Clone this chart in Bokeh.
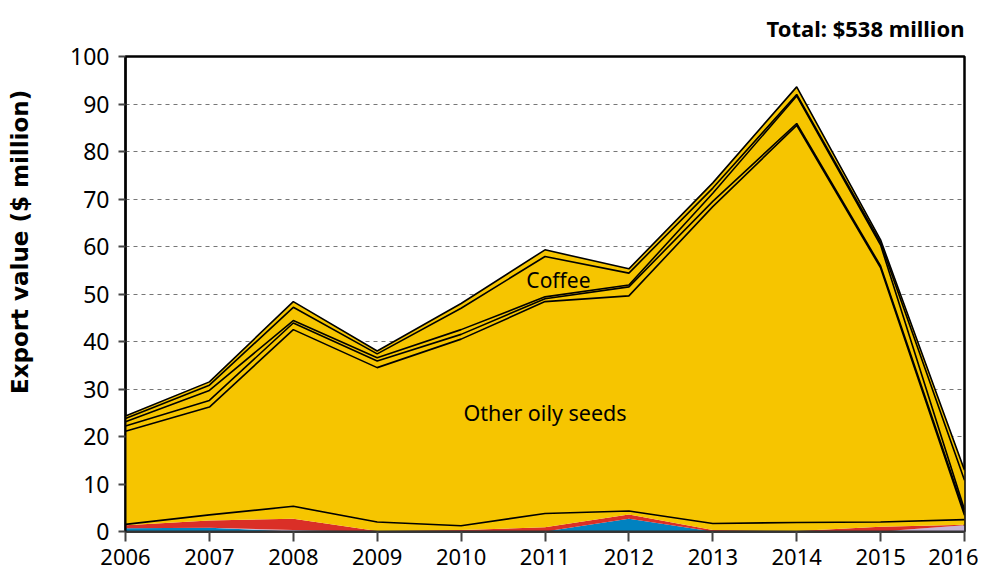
import numpy as np
from bokeh.plotting import figure
from bokeh.models import ColumnDataSource, FixedTicker, Label, Title
from bokeh.embed import file_html
from bokeh.resources import INLINE

years = [2006, 2007, 2008, 2009, 2010, 2011, 2012, 2013, 2014, 2015, 2016]

# Stacked series (bottom to top), $ million
blue = [0.7, 0.8, 0.0, 0.0, 0.0, 0.0, 2.7, 0.0, 0.0, 0.0, 0.0]
lilac = [0.0, 0.0, 0.3, 0.0, 0.0, 0.0, 0.0, 0.0, 0.0, 0.0, 1.3]
red = [0.6, 1.5, 2.4, 0.1, 0.3, 0.9, 0.9, 0.3, 0.1, 1.0, 0.1]
other = [0.2, 1.2, 2.6, 1.9, 0.9, 2.9, 0.7, 1.4, 1.8, 1.0, 1.1]
oily_seeds = [19.6, 22.7, 37.2, 32.5, 39.3, 44.6, 45.3, 66.7, 83.6, 53.5, 0.9]
prod_a = [1.1, 1.4, 1.4, 1.4, 1.0, 0.6, 1.9, 1.1, 0.4, 0.4, 0.6]
prod_b = [0.9, 2.1, 0.5, 0.7, 1.0, 0.4, 0.4, 1.7, 5.8, 4.4, 0.6]
coffee = [0.7, 1.1, 2.8, 0.8, 4.5, 8.5, 2.5, 1.1, 0.3, 0.5, 6.2]
prod_c = [0.5, 0.7, 1.2, 0.6, 1.0, 1.4, 0.9, 1.1, 1.6, 0.6, 2.1]

y_ticks = [0, 10, 20, 30, 40, 50, 60, 70, 80, 90, 100]
x_ticks = years
title_text = "Total: $538 million"
y_label = "Export value ($ million)"

YELLOW = "#F6C500"
names = ["blue", "lilac", "red", "other", "oily", "a", "b", "coffee", "c"]
series = [blue, lilac, red, other, oily_seeds, prod_a, prod_b, coffee, prod_c]
colors = ["#0082C0", "#C5B3D6", "#DA2F27", YELLOW, YELLOW, YELLOW, YELLOW, YELLOW, YELLOW]

data = {"x": years}
for n, s in zip(names, series):
    data[n] = s
src = ColumnDataSource(data)

FONT = "Noto Sans"

p = figure(width=978, height=574, x_range=(2006, 2016), y_range=(0, 100),
           output_backend="svg", toolbar_location=None,
           min_border_left=125, min_border_right=14, min_border_top=56, min_border_bottom=43)

p.varea_stack(stackers=names, x="x", color=colors, source=src)

# boundary lines above "other" layer
cum = np.cumsum(np.array(series), axis=0)
for i in range(3, len(series)):
    p.line(years, cum[i], line_color="black", line_width=1.6)

# axes
p.xaxis.ticker = FixedTicker(ticks=x_ticks)
p.yaxis.ticker = FixedTicker(ticks=y_ticks)
p.xaxis.major_label_text_font = FONT
p.yaxis.major_label_text_font = FONT
p.xaxis.major_label_text_font_size = "22px"
p.yaxis.major_label_text_font_size = "23px"
p.xaxis.major_label_text_color = "black"
p.yaxis.major_label_text_color = "black"
p.xaxis.axis_line_color = "#333333"
p.xaxis.axis_line_width = 2
p.yaxis.axis_line_color = "black"
p.yaxis.axis_line_width = 2
p.xaxis.major_tick_line_color = "#444444"
p.yaxis.major_tick_line_color = "#444444"
p.xaxis.major_tick_line_width = 2
p.yaxis.major_tick_line_width = 2
p.xaxis.major_tick_out = 10
p.xaxis.major_tick_in = 0
p.yaxis.major_tick_out = 7
p.yaxis.major_tick_in = 0
p.xaxis.minor_tick_line_color = None
p.yaxis.minor_tick_line_color = None
p.xaxis.major_label_standoff = 7
p.yaxis.major_label_standoff = 9

# y-axis title; leading no-break spaces lift the visible text above the frame centre
p.yaxis.axis_label = "\u00a0" * 13 + y_label
p.yaxis.axis_label_text_font = "DejaVu Sans"
p.yaxis.axis_label_text_font_style = "bold"
p.yaxis.axis_label_text_font_size = "23px"
p.yaxis.axis_label_text_color = "black"
p.yaxis.axis_label_standoff = 34

p.xgrid.grid_line_color = None
p.ygrid.ticker = FixedTicker(ticks=y_ticks[1:-1])
p.ygrid.grid_line_color = "#777777"
p.ygrid.grid_line_dash = "4 4"
p.ygrid.grid_line_width = 1.2

p.outline_line_color = "black"
p.outline_line_width = 2.5

t = Title(text=title_text, align="right", vertical_align="top", text_font=FONT,
          text_font_style="bold", text_font_size="22px", text_color="black", standoff=24)
p.add_layout(t, "above")

p.add_layout(Label(x=2011.16, y=53, text="Coffee", text_font=FONT, text_font_size="21px",
                   text_align="center", text_baseline="middle", text_color="black"))
p.add_layout(Label(x=2011.0, y=25, text="Other oily seeds", text_font=FONT, text_font_size="21.5px",
                   text_align="center", text_baseline="middle", text_color="black"))

open("out.html", "w").write(file_html(p, INLINE))
